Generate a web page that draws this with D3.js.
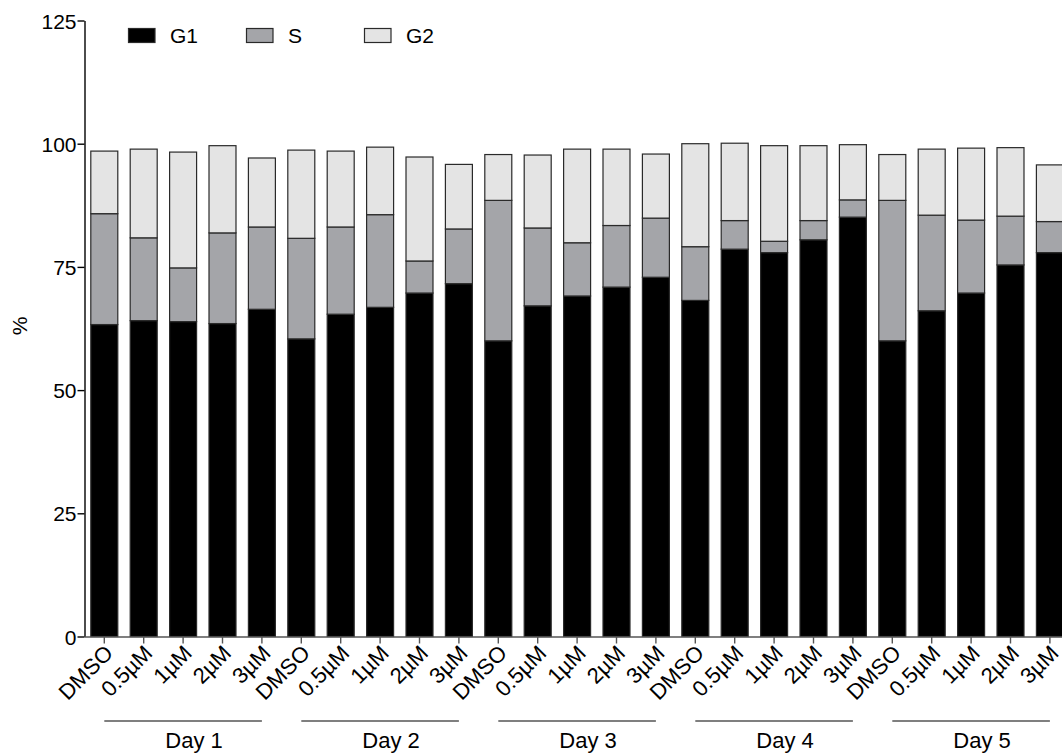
<!DOCTYPE html>
<html>
<head>
<meta charset="utf-8">
<script src="https://cdn.jsdelivr.net/npm/d3@7"></script>
<style>
  html, body { margin: 0; padding: 0; background: #fff; }
  svg { display: block; font-family: "Liberation Sans", Arial, sans-serif; }
</style>
</head>
<body>
<svg id="chart" width="1062" height="755"></svg>
<script>
// Cell-cycle phase distribution (%) per treatment and day
const days = ["Day 1", "Day 2", "Day 3", "Day 4", "Day 5"];
const doses = ["DMSO", "0.5µM", "1µM", "2µM", "3µM"];
const phases = ["G1", "S", "G2"];

const g1 = [63.3, 64.1, 63.9, 63.5, 66.4,
            60.4, 65.4, 66.8, 69.7, 71.6,
            60.0, 67.1, 69.1, 70.9, 72.9,
            68.2, 78.6, 77.9, 80.5, 85.1,
            60.0, 66.1, 69.7, 75.4, 77.9];
const sPhase = [22.5, 16.8, 10.9, 18.4, 16.7,
                20.4, 17.7, 18.8, 6.5, 11.1,
                28.5, 15.8, 10.8, 12.5, 12.0,
                10.9, 5.8, 2.3, 3.9, 3.5,
                28.5, 19.4, 14.8, 9.9, 6.3];
const g2 = [12.7, 18.0, 23.5, 17.7, 14.0,
            17.9, 15.4, 13.7, 21.1, 13.1,
            9.3, 14.8, 19.0, 15.5, 13.0,
            20.9, 15.7, 19.4, 15.2, 11.2,
            9.3, 13.4, 14.6, 13.9, 11.5];
const yTicks = [0, 25, 50, 75, 100, 125];

const fills = { G1: "#000000", S: "#a4a5a9", G2: "#e4e4e4" };

// One row per bar, built from the arrays above
const rows = [];
days.forEach((day, di) => {
  doses.forEach((dose, ki) => {
    const i = di * doses.length + ki;
    rows.push({ key: day + "|" + dose, day, dose, G1: g1[i], S: sPhase[i], G2: g2[i] });
  });
});

const svg = d3.select("#chart");
const axisX = 84.5;
const yBottom = 636.5;
const yTop = 20.5;

const y = d3.scaleLinear().domain([0, 125]).range([yBottom, yTop]);
const x = d3.scaleBand()
  .domain(rows.map(r => r.key))
  .range([axisX, axisX + 39.4 * 25.005])
  .paddingInner(0.315)
  .paddingOuter(0.16);

const stacked = d3.stack().keys(phases)(rows);

// Stacked bars
svg.append("g")
  .selectAll("g")
  .data(stacked)
  .join("g")
    .attr("fill", d => fills[d.key])
  .selectAll("rect")
  .data(d => d)
  .join("rect")
    .attr("x", d => x(d.data.key))
    .attr("width", x.bandwidth())
    .attr("y", d => y(d[1]))
    .attr("height", d => y(d[0]) - y(d[1]))
    .attr("stroke", "#2a2a2a")
    .attr("stroke-width", 1.2);

// Y axis
const yAxis = svg.append("g")
  .attr("transform", `translate(${axisX},0)`)
  .call(d3.axisLeft(y).tickValues(yTicks).tickSize(7).tickPadding(1).tickSizeOuter(0));
yAxis.select(".domain").attr("stroke", "#000").attr("stroke-width", 1.4);
yAxis.selectAll(".tick line").attr("stroke", "#000").attr("stroke-width", 1.4);
yAxis.selectAll(".tick text")
  .attr("font-size", 21)
  .attr("fill", "#000")
  .attr("font-family", "Liberation Sans, Arial, sans-serif")
  .attr("dy", "0.36em");

// X axis
const xAxis = svg.append("g")
  .attr("transform", `translate(0,${yBottom})`)
  .call(d3.axisBottom(x).tickSize(7).tickSizeOuter(0).tickFormat(k => k.split("|")[1]));
xAxis.select(".domain")
  .attr("d", `M${axisX},0.5H1070`)
  .attr("stroke", "#555").attr("stroke-width", 1.4);
xAxis.selectAll(".tick line").attr("stroke", "#555").attr("stroke-width", 1.4);
xAxis.selectAll(".tick text")
  .attr("font-size", 22)
  .attr("fill", "#000")
  .attr("font-family", "Liberation Sans, Arial, sans-serif")
  .attr("text-anchor", "end")
  .attr("y", 0)
  .attr("dy", 0)
  .attr("transform", "translate(10,18) rotate(-45)");

// Day group brackets and labels
const dayG = svg.append("g");
days.forEach(day => {
  const first = x(day + "|" + doses[0]) + x.bandwidth() / 2;
  const last = x(day + "|" + doses[doses.length - 1]) + x.bandwidth() / 2;
  dayG.append("line")
    .attr("x1", first).attr("x2", last)
    .attr("y1", 721).attr("y2", 721)
    .attr("stroke", "#000").attr("stroke-width", 1.2);
  dayG.append("text")
    .attr("x", (first + last) / 2 + 11)
    .attr("y", 748)
    .attr("text-anchor", "middle")
    .attr("font-size", 22)
    .text(day);
});

// Y axis title
svg.append("text")
  .attr("transform", "translate(27,326) rotate(-90)")
  .attr("text-anchor", "middle")
  .attr("font-size", 21)
  .text("%");

// Legend
const legend = svg.append("g");
phases.forEach((p, i) => {
  const lx = 128.5 + i * 118;
  legend.append("rect")
    .attr("x", lx).attr("y", 28.5)
    .attr("width", 26.5).attr("height", 14)
    .attr("fill", fills[p])
    .attr("stroke", "#2a2a2a").attr("stroke-width", 1.2);
  legend.append("text")
    .attr("x", lx + 41.5).attr("y", 42.5)
    .attr("font-size", 21)
    .text(p);
});
</script>
</body>
</html>
